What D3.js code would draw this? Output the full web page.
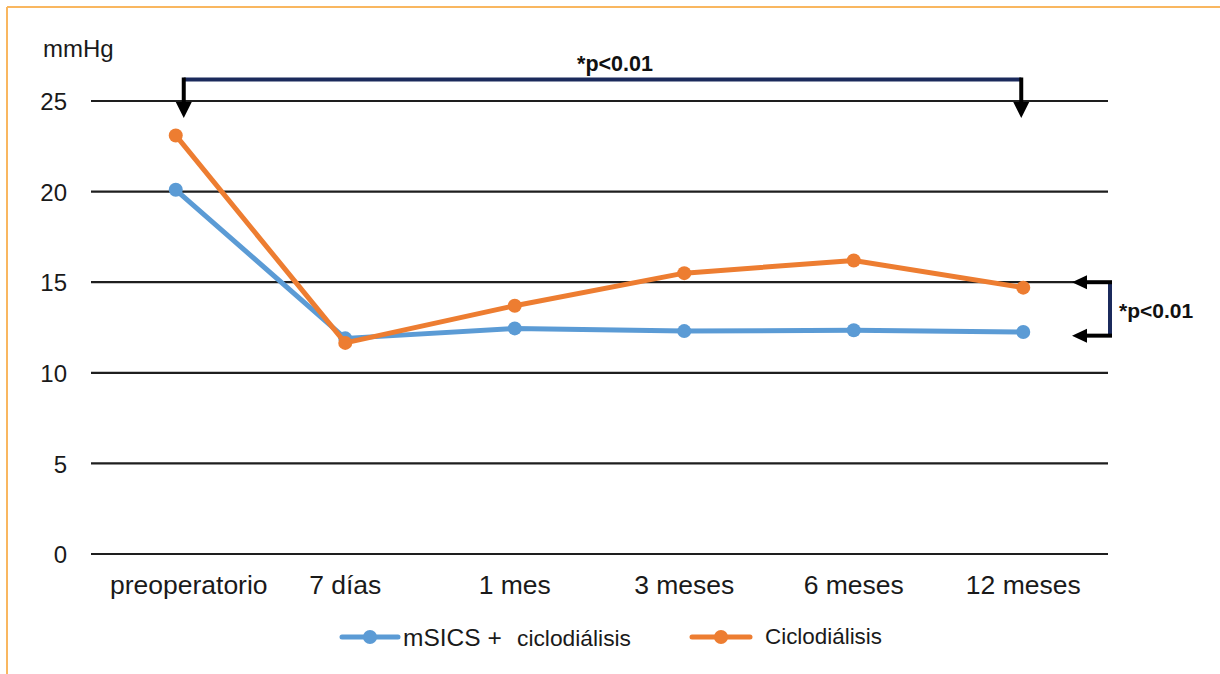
<!DOCTYPE html>
<html>
<head>
<meta charset="utf-8">
<script src="https://cdn.jsdelivr.net/npm/d3@7"></script>
<style>
  html, body { margin: 0; padding: 0; background: #fff; }
  svg { display: block; font-family: "Liberation Sans", Arial, sans-serif; }
</style>
</head>
<body>
<svg id="chart" width="1220" height="674"></svg>
<script>
const categories = ["preoperatorio", "7 días", "1 mes", "3 meses", "6 meses", "12 meses"];
const seriesNames = ["mSICS + ciclodiálisis", "Ciclodiálisis"];
const msicsValues = [20.1, 11.9, 12.45, 12.3, 12.35, 12.25];
const ciclodialisisValues = [23.1, 11.65, 13.7, 15.5, 16.2, 14.7];
const yTicks = [0, 5, 10, 15, 20, 25];
const unitLabel = "mmHg";
const pLabel = "*p<0.01";

const svg = d3.select("#chart");
const blue = "#5B9BD5", orange = "#ED7D31", navy = "#1B2A5C";

// page frame (top and left orange edges)
svg.append("line").attr("x1", 7).attr("x2", 1220).attr("y1", 7).attr("y2", 7)
  .attr("stroke", "#F9B760").attr("stroke-width", 2);
svg.append("line").attr("x1", 7).attr("x2", 7).attr("y1", 7).attr("y2", 674)
  .attr("stroke", "#F9B760").attr("stroke-width", 2);

const x = d3.scaleBand().domain(categories).range([91, 1108]);
const y = d3.scaleLinear().domain([0, 25]).range([554, 101]);
const cx = d => x(d) + x.bandwidth() / 2;

// gridlines
svg.append("g").selectAll("line").data(yTicks).join("line")
  .attr("x1", 91).attr("x2", 1108)
  .attr("y1", d => y(d)).attr("y2", d => y(d))
  .attr("stroke", "#1e1e1e").attr("stroke-width", 2.2);

// y axis labels
const yAxis = d3.axisLeft(y).tickValues(yTicks).tickSize(0).tickPadding(0);
const gy = svg.append("g").attr("transform", "translate(67,0)").call(yAxis);
gy.select(".domain").remove();
gy.selectAll("text").attr("font-size", 24).attr("fill", "#1a1a1a")
  .attr("font-family", "Liberation Sans, Arial, sans-serif").attr("dy", "0.36em");

// x axis labels
const xAxis = d3.axisBottom(x).tickSize(0).tickPadding(0);
const gx = svg.append("g").attr("transform", "translate(0,575)").call(xAxis);
gx.select(".domain").remove();
gx.selectAll("text").attr("font-size", 26.5).attr("fill", "#1a1a1a")
  .attr("font-family", "Liberation Sans, Arial, sans-serif").attr("dy", "0.71em")
  .attr("dx", (d, i) => i === 0 ? 13 : 0);

svg.append("text").attr("x", 43).attr("y", 57).attr("font-size", 24).attr("fill", "#1a1a1a").text(unitLabel);

// lines
const line = d3.line().x((d, i) => cx(categories[i])).y(d => y(d));
[[msicsValues, blue], [ciclodialisisValues, orange]].forEach(([vals, col]) => {
  svg.append("path").datum(vals).attr("d", line).attr("fill", "none")
    .attr("stroke", col).attr("stroke-width", 5).attr("stroke-linejoin", "round");
  svg.append("g").selectAll("circle").data(vals).join("circle")
    .attr("cx", (d, i) => cx(categories[i])).attr("cy", d => y(d)).attr("r", 7).attr("fill", col);
});

// top bracket
const xL = cx(categories[0]) + 8, xR = cx(categories[5]) - 2;
const yTop = 79.5;
svg.append("line").attr("x1", xL).attr("x2", xR).attr("y1", yTop).attr("y2", yTop)
  .attr("stroke", navy).attr("stroke-width", 4);
[xL, xR].forEach(xx => {
  svg.append("line").attr("x1", xx).attr("x2", xx).attr("y1", yTop - 2).attr("y2", 104)
    .attr("stroke", "#000").attr("stroke-width", 4);
  svg.append("path").attr("d", `M${xx - 8},102 L${xx + 8},102 L${xx},118 Z`).attr("fill", "#000");
});
svg.append("text").attr("x", 615).attr("y", 71).attr("text-anchor", "middle")
  .attr("font-size", 21.5).attr("font-weight", "bold").attr("fill", "#111").text(pLabel);

// right bracket
const yA = y(15), yB = y(12.05);
const xV = 1110;
svg.append("line").attr("x1", xV).attr("x2", xV).attr("y1", yA).attr("y2", yB)
  .attr("stroke", navy).attr("stroke-width", 4);
[yA, yB].forEach(yy => {
  svg.append("line").attr("x1", 1084).attr("x2", xV + 2).attr("y1", yy).attr("y2", yy)
    .attr("stroke", "#000").attr("stroke-width", 4);
  svg.append("path").attr("d", `M1087,${yy - 7} L1087,${yy + 7} L1072,${yy} Z`).attr("fill", "#000");
});
svg.append("text").attr("x", 1119).attr("y", 318)
  .attr("font-size", 21).attr("font-weight", "bold").attr("fill", "#111").text(pLabel);

// legend
const ly = 637;
const legendItems = [
  { col: blue, x1: 342, x2: 398 },
  { col: orange, x1: 692, x2: 750 }
];
legendItems.forEach(it => {
  svg.append("line").attr("x1", it.x1).attr("x2", it.x2).attr("y1", ly).attr("y2", ly)
    .attr("stroke", it.col).attr("stroke-width", 5).attr("stroke-linecap", "round");
  svg.append("circle").attr("cx", (it.x1 + it.x2) / 2).attr("cy", ly).attr("r", 7).attr("fill", it.col);
});
const parts = seriesNames[0].split("+ ");
svg.append("text").attr("x", 403).attr("y", 646).attr("font-size", 24.5).attr("fill", "#1a1a1a").text(parts[0] + "+");
svg.append("text").attr("x", 517).attr("y", 646).attr("font-size", 22).attr("fill", "#1a1a1a")
  .attr("textLength", 114).attr("lengthAdjust", "spacingAndGlyphs").text(parts[1]);
svg.append("text").attr("x", 765).attr("y", 644).attr("font-size", 22).attr("fill", "#1a1a1a")
  .attr("textLength", 117).attr("lengthAdjust", "spacingAndGlyphs").text(seriesNames[1]);
</script>
</body>
</html>
